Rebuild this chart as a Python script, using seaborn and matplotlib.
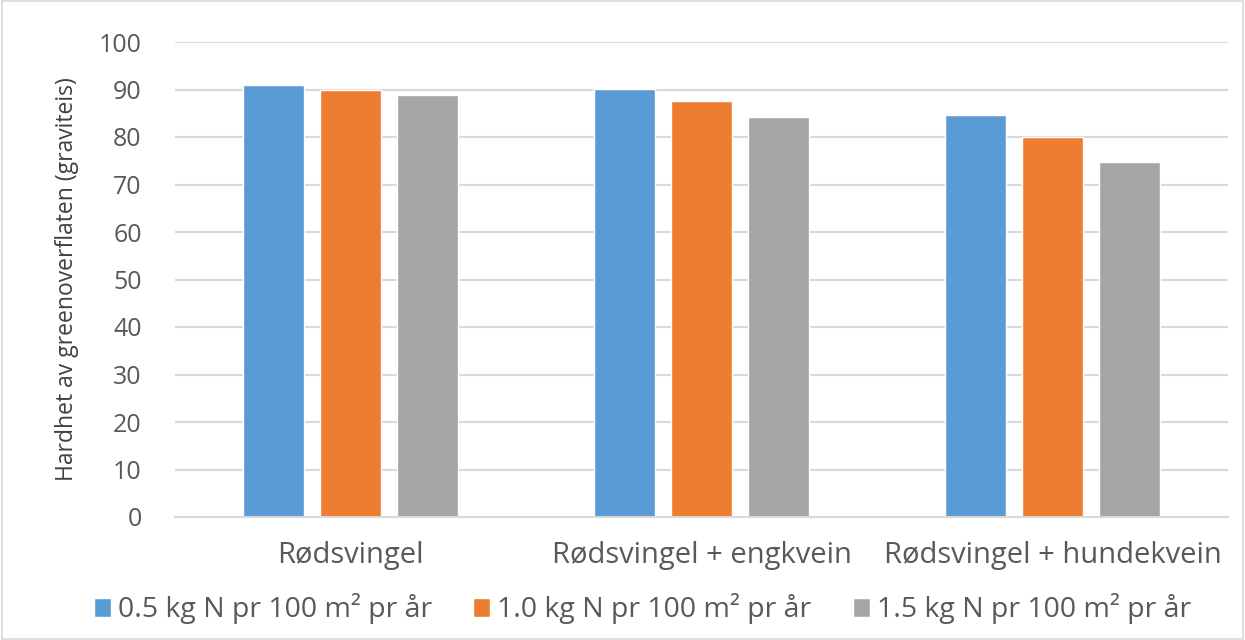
import matplotlib
matplotlib.use("Agg")
import matplotlib.pyplot as plt
import seaborn as sns
import pandas as pd
from matplotlib.patches import Rectangle

categories = ["Rødsvingel", "Rødsvingel + engkvein", "Rødsvingel + hundekvein"]
series_names = ["0.5 kg N pr 100 m² pr år", "1.0 kg N pr 100 m² pr år", "1.5 kg N pr 100 m² pr år"]
vals_05 = [90.9, 90.2, 84.6]
vals_10 = [89.9, 87.6, 79.9]
vals_15 = [88.8, 84.3, 74.7]
colors = ["#5b9bd5", "#ed7d31", "#a5a5a5"]
y_ticks = [0, 10, 20, 30, 40, 50, 60, 70, 80, 90, 100]
y_label = "Hardhet av greenoverflaten (graviteis)"

rows = []
for s, vals in zip(series_names, [vals_05, vals_10, vals_15]):
    for c, v in zip(categories, vals):
        rows.append({"cat": c, "series": s, "value": v})
df = pd.DataFrame(rows)

sns.set_theme(style="white")
plt.rcParams['font.family'] = ['Open Sans', 'DejaVu Sans']

fig = plt.figure(figsize=(12.45, 6.4), dpi=100)
ax = fig.add_axes([175/1245, 1 - 517/640, (1228-175)/1245, (517-42)/640])

sns.barplot(data=df, x="cat", y="value", hue="series", palette=colors,
            width=0.66, gap=0.21, saturation=1, ax=ax, legend=True, errorbar=None)

ax.set_ylim(0, 100)
ax.set_xlim(-0.5, 2.5)
ax.set_yticks(y_ticks)
ax.set_yticklabels([str(t) for t in y_ticks], fontsize=18, color="#595959")
ax.tick_params(axis='y', length=0, pad=24)
ax.tick_params(axis='x', length=0, pad=17, labelsize=21, labelcolor="#595959")
ax.yaxis.grid(True, color="#d9d9d9", linewidth=1.5)
ax.set_axisbelow(True)
for side in ["top", "right", "left"]:
    ax.spines[side].set_visible(False)
ax.spines["bottom"].set_color("#d9d9d9")
ax.spines["bottom"].set_linewidth(1.5)
ax.set_xlabel("")
ax.set_ylabel(y_label, fontsize=16.5, color="#404040", labelpad=14)

handles, labels = ax.get_legend_handles_labels()
ax.get_legend().remove()
fig.legend(handles, labels, loc="center", bbox_to_anchor=(0.516, 1 - 609/640),
           ncol=3, frameon=False, fontsize=20.5, handlelength=0.6, handleheight=0.6,
           handletextpad=0.25, columnspacing=1.45, labelcolor="#595959")

fig.patches.append(Rectangle((0.002, 0.002), 0.996, 0.996, transform=fig.transFigure,
                             fill=False, edgecolor="#d9d9d9", linewidth=1.2))

fig.savefig("out.png", dpi=100)
